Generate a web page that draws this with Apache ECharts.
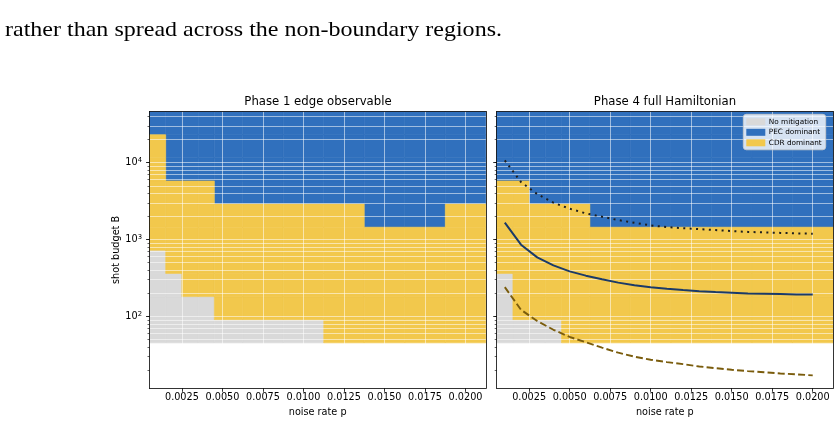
<!DOCTYPE html>
<html>
<head>
<meta charset="utf-8">
<script src="https://cdn.jsdelivr.net/npm/echarts@6/dist/echarts.min.js"></script>
<style>
html,body{margin:0;padding:0;background:#ffffff;}
#chart{width:840px;height:425px;}
</style>
</head>
<body>
<div id="chart"></div>
<script>
// ---------------- data ----------------
const introText = 'rather than spread across the non-boundary regions.';
const panelTitles = ['Phase 1 edge observable', 'Phase 4 full Hamiltonian'];
const xAxisName = 'noise rate p';
const yAxisName = 'shot budget B';
const regimeNames = ['No mitigation', 'PEC dominant', 'CDR dominant'];

// grid of noise rates (columns) and shot budgets (rows)
const pValues = [0.001, 0.002, 0.003, 0.004, 0.005, 0.0075, 0.01, 0.0125, 0.015, 0.0175, 0.02];
const budgets = [64, 128, 256, 512, 1024, 2048, 4096, 8192, 16384, 32768];

// regime per cell: one list per p column, rows from B=64 upward
// 0 = No mitigation, 1 = PEC dominant, 2 = CDR dominant
const phase1Regimes = [
  [0, 0, 0, 0, 2, 2, 2, 2, 2, 1],
  [0, 0, 0, 2, 2, 2, 2, 1, 1, 1],
  [0, 0, 2, 2, 2, 2, 2, 1, 1, 1],
  [0, 0, 2, 2, 2, 2, 2, 1, 1, 1],
  [0, 2, 2, 2, 2, 2, 1, 1, 1, 1],
  [0, 2, 2, 2, 2, 2, 1, 1, 1, 1],
  [0, 2, 2, 2, 2, 2, 1, 1, 1, 1],
  [2, 2, 2, 2, 2, 2, 1, 1, 1, 1],
  [2, 2, 2, 2, 2, 1, 1, 1, 1, 1],
  [2, 2, 2, 2, 2, 1, 1, 1, 1, 1],
  [2, 2, 2, 2, 2, 2, 1, 1, 1, 1]
];
const phase4Regimes = [
  [0, 0, 0, 2, 2, 2, 2, 1, 1, 1],
  [0, 2, 2, 2, 2, 2, 2, 1, 1, 1],
  [0, 2, 2, 2, 2, 2, 1, 1, 1, 1],
  [0, 2, 2, 2, 2, 2, 1, 1, 1, 1],
  [2, 2, 2, 2, 2, 2, 1, 1, 1, 1],
  [2, 2, 2, 2, 2, 1, 1, 1, 1, 1],
  [2, 2, 2, 2, 2, 1, 1, 1, 1, 1],
  [2, 2, 2, 2, 2, 1, 1, 1, 1, 1],
  [2, 2, 2, 2, 2, 1, 1, 1, 1, 1],
  [2, 2, 2, 2, 2, 1, 1, 1, 1, 1],
  [2, 2, 2, 2, 2, 1, 1, 1, 1, 1]
];

// overlay curves in the Phase 4 panel
const curveP = [0.001, 0.002, 0.003, 0.004, 0.005, 0.006, 0.007, 0.008, 0.009, 0.010,
                0.011, 0.012, 0.013, 0.014, 0.015, 0.016, 0.017, 0.018, 0.019, 0.020];
const curveSolid = [1656, 857, 586, 461, 385, 339, 305, 275, 255, 240,
                    229, 220, 213, 207, 203, 199, 197, 195, 193, 193];
const curveDotted = [10700, 5600, 3900, 3013, 2518, 2190, 1981, 1790, 1655, 1527,
                     1452, 1404, 1367, 1327, 1288, 1257, 1238, 1221, 1203, 1191];
const curveDashed = [240, 122, 87, 67, 54, 46, 39.2, 33.7, 29.9, 27.3,
                     25.4, 23.9, 22.3, 21.2, 20.2, 19.4, 18.8, 18.1, 17.6, 17.1];

// axis ticks
const xTicks = [0.0025, 0.005, 0.0075, 0.01, 0.0125, 0.015, 0.0175, 0.02];
const yMajorTicks = [100, 1000, 10000];
const yMinorTicks = [20, 30, 40, 50, 60, 70, 80, 90, 200, 300, 400, 500, 600, 700, 800, 900,
                     2000, 3000, 4000, 5000, 6000, 7000, 8000, 9000, 20000, 30000, 40000];
const yAxisLow = 11.6;

// ---------------- styling ----------------
const regimeColors = ['#d9d9d9', '#3070bd', '#f2c84c'];
const FONT = 'DejaVu Sans';
const gridLineStyle = { color: 'rgba(255,255,255,0.6)', width: 0.9 };
const spineStyle = { color: '#000', width: 0.8 };

// cell edges like pcolormesh (linear mid-points in p, geometric in B)
function linEdges(c) {
  const n = c.length, e = [c[0] - (c[1] - c[0]) / 2];
  for (let i = 0; i < n - 1; i++) e.push((c[i] + c[i + 1]) / 2);
  e.push(c[n - 1] + (c[n - 1] - c[n - 2]) / 2);
  return e;
}
function geoEdges(c) {
  const n = c.length, e = [c[0] / Math.sqrt(c[1] / c[0])];
  for (let i = 0; i < n - 1; i++) e.push(Math.sqrt(c[i] * c[i + 1]));
  e.push(c[n - 1] * Math.sqrt(c[n - 1] / c[n - 2]));
  return e;
}
const xEdges = linEdges(pValues);
const yEdges = geoEdges(budgets);
const xMin = xEdges[0], xMax = xEdges[xEdges.length - 1];
const yMax = yEdges[yEdges.length - 1];

function cellsOf(regimes, code) {
  const out = [];
  regimes.forEach((col, i) => col.forEach((r, j) => {
    if (r === code) out.push([xEdges[i], xEdges[i + 1], yEdges[j], yEdges[j + 1]]);
  }));
  return out;
}

function renderCell(color) {
  return function (params, api) {
    const a = api.coord([api.value(0), api.value(2)]);
    const b = api.coord([api.value(1), api.value(3)]);
    return {
      type: 'rect',
      shape: { x: a[0], y: b[1], width: b[0] - a[0], height: a[1] - b[1] },
      style: { fill: color, stroke: color, lineWidth: 0.6 }
    };
  };
}

const grids = [
  { left: 149.5, top: 111.5, width: 336.3, height: 276.8, outerBoundsMode: 'none' },
  { left: 496.7, top: 111.5, width: 336.3, height: 276.8, outerBoundsMode: 'none' }
];

const xAxes = [], yAxes = [], series = [];
[0, 1].forEach(k => {
  xAxes.push({
    type: 'value', gridIndex: k, min: xMin, max: xMax, z: 3,
    axisLine: { show: true, onZero: false, lineStyle: spineStyle },
    axisTick: { show: true, customValues: xTicks, length: 3.5, lineStyle: spineStyle },
    axisLabel: {
      show: true, customValues: xTicks, margin: 4, fontSize: 9.7, color: '#000', fontFamily: FONT,
      formatter: v => v.toFixed(4)
    },
    splitLine: { show: true, lineStyle: gridLineStyle },
    name: xAxisName, nameLocation: 'middle', nameGap: 19,
    nameTextStyle: { fontSize: 9.7, color: '#000', fontFamily: FONT }
  });
  xAxes.push({
    type: 'value', gridIndex: k, min: xMin, max: xMax, position: 'top', z: 3,
    axisLine: { show: true, onZero: false, lineStyle: spineStyle },
    axisTick: { show: false }, axisLabel: { show: false }, splitLine: { show: false }
  });
  const major = {
    type: 'log', logBase: 10, gridIndex: k, min: yAxisLow, max: yMax, z: 3, position: 'left',
    axisLine: { show: true, onZero: false, lineStyle: spineStyle },
    axisTick: { show: true, customValues: yMajorTicks, length: 3.5, lineStyle: spineStyle },
    axisLabel: {
      show: k === 0, customValues: yMajorTicks, margin: 7.5, color: '#000', fontFamily: FONT,
      fontSize: 9.7,
      formatter: v => '10{s|' + Math.round(Math.log10(v)) + '}',
      rich: { s: { fontSize: 6.8, verticalAlign: 'top', color: '#000', fontFamily: FONT, padding: [0, 0, 5, 0] } }
    },
    splitLine: { show: false }
  };
  if (k === 0) {
    major.name = yAxisName;
    major.nameLocation = 'middle';
    major.nameGap = 28;
    major.nameTextStyle = { fontSize: 9.7, color: '#000', fontFamily: FONT };
  }
  yAxes.push(major);
  yAxes.push({
    type: 'log', logBase: 10, gridIndex: k, min: yAxisLow, max: yMax, z: 3, position: 'left',
    axisLine: { show: false },
    axisTick: { show: true, customValues: yMajorTicks.concat(yMinorTicks), length: 2, lineStyle: { color: '#000', width: 0.6 } },
    axisLabel: { show: false },
    splitLine: { show: true, lineStyle: gridLineStyle }
  });
  yAxes.push({
    type: 'log', logBase: 10, gridIndex: k, min: yAxisLow, max: yMax, z: 3, position: 'right',
    axisLine: { show: true, onZero: false, lineStyle: spineStyle },
    axisTick: { show: false }, axisLabel: { show: false }, splitLine: { show: false }
  });

  const regimes = k === 0 ? phase1Regimes : phase4Regimes;
  [0, 1, 2].forEach(code => {
    series.push({
      type: 'custom', name: regimeNames[code], xAxisIndex: k * 2, yAxisIndex: k * 3,
      z: 2, silent: true, clip: true,
      itemStyle: { color: regimeColors[code] },
      encode: { x: [0, 1], y: [2, 3] },
      renderItem: renderCell(regimeColors[code]),
      data: cellsOf(regimes, code)
    });
  });
});

const toPairs = ys => curveP.map((p, i) => [p, ys[i]]);
const lineBase = { type: 'line', xAxisIndex: 2, yAxisIndex: 3, symbol: 'none', showSymbol: false, z: 5, silent: true, clip: false };
series.push(Object.assign({}, lineBase, { data: toPairs(curveDotted), lineStyle: { color: '#1e1e1e', width: 2, type: [2, 4.4], cap: 'butt' } }));
series.push(Object.assign({}, lineBase, { data: toPairs(curveSolid), lineStyle: { color: '#1b3a68', width: 2 } }));
series.push(Object.assign({}, lineBase, { data: toPairs(curveDashed), lineStyle: { color: '#7a5c0c', width: 1.9, type: [7, 3.2], cap: 'butt' } }));

// fit the intro line to its printed width
const mctx = document.createElement('canvas').getContext('2d');
mctx.font = '21px "Liberation Serif"';
const introScale = 497 / mctx.measureText(introText).width;

const chart = echarts.init(document.getElementById('chart'), null, { renderer: 'canvas' });
chart.setOption({
  animation: false,
  backgroundColor: '#ffffff',
  textStyle: { fontFamily: FONT },
  grid: grids,
  xAxis: xAxes,
  yAxis: yAxes,
  legend: {
    data: regimeNames.map(n => ({ name: n, icon: 'rect' })),
    orient: 'vertical', left: 743.3, top: 114.3,
    itemWidth: 19, itemHeight: 7, itemGap: 3.5,
    padding: [4, 4, 3.5, 3],
    backgroundColor: 'rgba(255,255,255,0.8)', borderColor: '#cccccc', borderWidth: 0.8, borderRadius: 3,
    textStyle: { fontSize: 7.3, color: '#000', fontFamily: FONT, padding: [0, 0, 0, -1.5] },
    selectedMode: false, z: 10
  },
  graphic: [
    { type: 'text', left: 5, top: 20, z: 10, scaleX: introScale, originX: 0,
      style: { text: introText, font: '21px "Liberation Serif"', fill: '#000' } },
    { type: 'text', x: 318, y: 101.7, z: 10,
      style: { text: panelTitles[0], fontSize: 11.7, fontFamily: FONT, fill: '#000', align: 'center', verticalAlign: 'middle' } },
    { type: 'text', x: 665, y: 101.7, z: 10,
      style: { text: panelTitles[1], fontSize: 11.7, fontFamily: FONT, fill: '#000', align: 'center', verticalAlign: 'middle' } }
  ],
  series: series
});
</script>
</body>
</html>
